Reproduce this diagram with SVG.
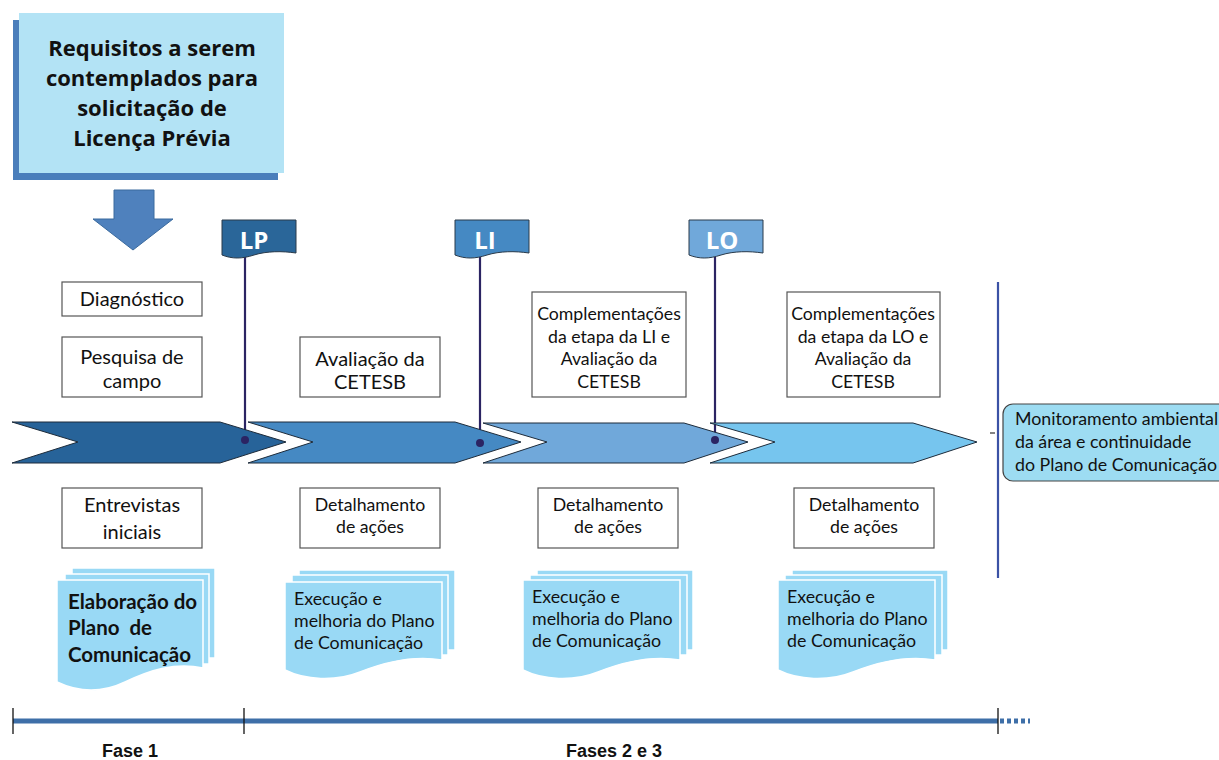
<svg xmlns="http://www.w3.org/2000/svg" width="1219" height="760" viewBox="0 0 1219 760">
<style>
.box{fill:#fff;stroke:#555;stroke-width:1.2}
.t{font-family:Lato,"Open Sans",sans-serif;font-size:20px;fill:#111;text-anchor:middle}
.ts{font-family:Lato,"Open Sans",sans-serif;font-size:17.7px;fill:#111;text-anchor:middle}
.tl{font-family:Lato,"Open Sans",sans-serif;font-size:17.8px;fill:#111}
.flagt{font-family:"Open Sans",sans-serif;font-weight:bold;font-size:24px;fill:#fff;text-anchor:middle}
.pole{stroke:#2b2463;stroke-width:2.2}
.dot{fill:#2b2463}
.chev{stroke:#1d2b3a;stroke-width:1}
.doc{fill:#99d9f5;stroke:#fff;stroke-width:1.5}
.flag{stroke:#2a3a4a;stroke-width:1}
.fase{font-family:"Liberation Sans Narrow","Liberation Sans",sans-serif;font-weight:bold;font-size:18px;fill:#111;text-anchor:middle}
</style>
<defs>
<path id="flagshape" d="M0,0 H74 V33 C60,31 45,31 32,35 C20,39 10,39 0,35 Z"/>
</defs>
<rect width="1219" height="760" fill="#fff"/>

<g id="requisitos">
<rect x="13" y="20" width="265" height="160" fill="#4a7ebb"/>
<rect x="19" y="13" width="265" height="160" fill="#b3e3f5"/>
<g font-family="'Open Sans',sans-serif" font-weight="bold" font-size="22" fill="#111" text-anchor="middle">
<text x="152" y="56">Requisitos a serem</text>
<text x="152" y="86">contemplados para</text>
<text x="152" y="116">solicitação de</text>
<text x="152" y="146">Licença Prévia</text>
</g>
</g>

<g id="seta-baixo">
<path d="M114,190 H154 V219 H173 L133,250 L93,219 H114 Z" fill="#4f81bd" stroke="#3a6a9e" stroke-width="1"/>
</g>

<g id="connectors">
<line class="pole" x1="245" y1="257" x2="245" y2="440"/>
<line class="pole" x1="480" y1="257" x2="480" y2="443"/>
<line class="pole" x1="715" y1="257" x2="715" y2="440"/>
<line x1="998" y1="282" x2="998" y2="578" stroke="#3b52a5" stroke-width="2.2"/>
<line x1="990" y1="433" x2="995" y2="433" stroke="#333" stroke-width="1.2"/>
</g>

<g id="chevrons">
<path class="chev" fill="#276399" d="M12,422 H220 L286,442 L220,463 H12 L78,442 Z"/>
<path class="chev" fill="#4589c3" d="M248,422 H455 L521,442 L455,463 H248 L313,442 Z"/>
<path class="chev" fill="#70a8da" d="M483,423 H684 L748,442 L684,463 H483 L547,442 Z"/>
<path class="chev" fill="#76c5ee" d="M710,423 H913 L977,442 L913,463 H710 L775,442 Z"/>
</g>

<g id="dots">
<circle class="dot" cx="245" cy="440" r="4"/>
<circle class="dot" cx="480" cy="443" r="4"/>
<circle class="dot" cx="715" cy="440" r="4"/>
</g>

<g id="flag-lp">
<use href="#flagshape" x="222" y="220" fill="#2a6699" class="flag"/>
<text class="flagt" x="254" y="249">LP</text>
</g>
<g id="flag-li">
<use href="#flagshape" x="455" y="220" fill="#4589c3" class="flag"/>
<text class="flagt" x="485" y="249">LI</text>
</g>
<g id="flag-lo">
<use href="#flagshape" x="689" y="220" fill="#70a8da" class="flag"/>
<text class="flagt" x="722" y="249">LO</text>
</g>

<g id="diagnostico">
<rect class="box" x="62" y="282" width="140" height="34"/>
<text class="t" x="132" y="306">Diagnóstico</text>
</g>
<g id="pesquisa">
<rect class="box" x="62" y="337" width="140" height="60"/>
<text class="t" x="132" y="364">Pesquisa de</text>
<text class="t" x="132" y="388">campo</text>
</g>
<g id="avaliacao">
<rect class="box" x="300" y="337" width="140" height="60"/>
<text class="t" x="370" y="366">Avaliação da</text>
<text class="t" x="370" y="389">CETESB</text>
</g>
<g id="compl-li">
<rect class="box" x="532" y="292" width="154" height="105"/>
<text class="ts" x="609" y="320">Complementações</text>
<text class="ts" x="609" y="343">da etapa da LI e</text>
<text class="ts" x="609" y="365">Avaliação da</text>
<text class="ts" x="609" y="388">CETESB</text>
</g>
<g id="compl-lo">
<rect class="box" x="787" y="292" width="153" height="105"/>
<text class="ts" x="863" y="320">Complementações</text>
<text class="ts" x="863" y="343">da etapa da LO e</text>
<text class="ts" x="863" y="365">Avaliação da</text>
<text class="ts" x="863" y="388">CETESB</text>
</g>

<g id="monitoramento">
<rect x="1003" y="404" width="230" height="77" rx="10" fill="#9ddcf2" stroke="#444" stroke-width="1.2"/>
<text class="tl" x="1015" y="425">Monitoramento ambiental</text>
<text class="tl" x="1015" y="448">da área e continuidade</text>
<text class="tl" x="1015" y="471">do Plano de Comunicação</text>
</g>

<g id="entrevistas">
<rect class="box" x="62" y="488" width="140" height="60"/>
<text class="t" x="132" y="512">Entrevistas</text>
<text class="t" x="132" y="539">iniciais</text>
</g>
<g id="detalhamento-1">
<rect class="box" x="300" y="488" width="140" height="60"/>
<text class="ts" x="370" y="511">Detalhamento</text>
<text class="ts" x="370" y="533">de ações</text>
</g>
<g id="detalhamento-2">
<rect class="box" x="538" y="488" width="140" height="60"/>
<text class="ts" x="608" y="511">Detalhamento</text>
<text class="ts" x="608" y="533">de ações</text>
</g>
<g id="detalhamento-3">
<rect class="box" x="794" y="488" width="140" height="60"/>
<text class="ts" x="864" y="511">Detalhamento</text>
<text class="ts" x="864" y="533">de ações</text>
</g>

<g id="doc-elaboracao">
<rect class="doc" x="72" y="568" width="143" height="90"/>
<rect class="doc" x="65" y="574" width="144" height="90"/>
<path class="doc" d="M57,580 H203 V668 C175,662 150,670 125,682 C100,694 78,692 57,682 Z"/>
<g font-family="Lato,'Open Sans',sans-serif" font-weight="bold" font-size="20.5" fill="#111">
<text x="68" y="609">Elaboração do</text>
<text x="68" y="635" xml:space="preserve">Plano  de</text>
<text x="68" y="662">Comunicação</text>
</g>
</g>

<g id="doc-execucao-1">
<rect class="doc" x="299" y="570" width="156" height="80"/>
<rect class="doc" x="292" y="575" width="156" height="80"/>
<path class="doc" d="M285,582 H442 V660 C412,655 385,662 360,672 C335,682 305,680 285,670 Z"/>
<text class="tl" x="294" y="605">Execução e</text>
<text class="tl" x="294" y="627">melhoria do Plano</text>
<text class="tl" x="294" y="649">de Comunicação</text>
</g>
<g id="doc-execucao-2">
<rect class="doc" x="537" y="570" width="156" height="80"/>
<rect class="doc" x="530" y="575" width="157" height="80"/>
<path class="doc" d="M523,580 H680 V660 C650,655 623,662 598,672 C573,682 543,680 523,670 Z"/>
<text class="tl" x="532" y="603">Execução e</text>
<text class="tl" x="532" y="625">melhoria do Plano</text>
<text class="tl" x="532" y="647">de Comunicação</text>
</g>
<g id="doc-execucao-3">
<rect class="doc" x="792" y="570" width="156" height="80"/>
<rect class="doc" x="785" y="575" width="157" height="80"/>
<path class="doc" d="M778,580 H935 V660 C905,655 878,662 853,672 C828,682 798,680 778,670 Z"/>
<text class="tl" x="787" y="603">Execução e</text>
<text class="tl" x="787" y="625">melhoria do Plano</text>
<text class="tl" x="787" y="647">de Comunicação</text>
</g>

<g id="timeline">
<line x1="13" y1="721" x2="998" y2="721" stroke="#3e6fa8" stroke-width="5"/>
<line x1="1000" y1="721" x2="1030" y2="721" stroke="#3e6fa8" stroke-width="5" stroke-dasharray="4,3"/>
<line x1="13" y1="708" x2="13" y2="734" stroke="#111" stroke-width="1.3"/>
<line x1="244" y1="708" x2="244" y2="734" stroke="#111" stroke-width="1.3"/>
<line x1="998" y1="708" x2="998" y2="734" stroke="#111" stroke-width="1.3"/>
<text class="fase" x="130" y="757">Fase 1</text>
<text class="fase" x="614" y="757">Fases 2 e 3</text>
</g>
</svg>
